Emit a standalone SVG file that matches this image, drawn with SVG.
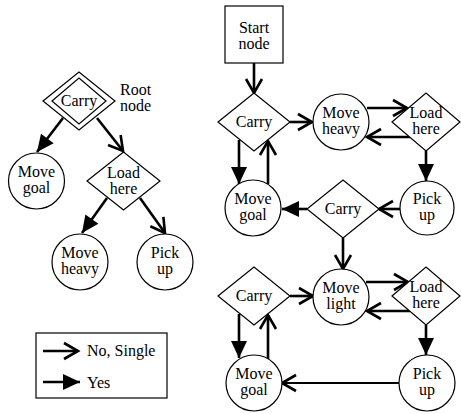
<svg xmlns="http://www.w3.org/2000/svg" width="461" height="414" viewBox="0 0 461 414">
<style>
.n{fill:#fff;stroke:#000;stroke-width:1.2}
.c{fill:none;stroke:#000;stroke-width:2.6}
</style>
<defs>
<marker id="open" markerUnits="userSpaceOnUse" markerWidth="22" markerHeight="22" viewBox="0 0 22 22" refX="18" refY="11" orient="auto" overflow="visible"><path d="M4,3 L18,11 L4,19" fill="none" stroke="#000" stroke-width="2.6"/></marker>
<marker id="fill" markerUnits="userSpaceOnUse" markerWidth="22" markerHeight="22" viewBox="0 0 22 22" refX="18" refY="11" orient="auto" overflow="visible"><path d="M1,3 L18,11 L1,19 Z" fill="#000" stroke="none"/></marker>
</defs>

<g id="connectors" class="c">
<path marker-end="url(#fill)" d="M63,118 L37,152"/>
<path marker-end="url(#open)" d="M97,118 L123,151"/>
<path marker-end="url(#fill)" d="M107,198 L82,233"/>
<path marker-end="url(#open)" d="M140,198 L165,233"/>
<path marker-end="url(#open)" d="M254,63 L254,93"/>
<path marker-end="url(#open)" d="M290,122 L312,122"/>
<path marker-end="url(#open)" d="M367,108 L407,108"/>
<path marker-end="url(#open)" d="M410,137 L367,137"/>
<path marker-end="url(#fill)" d="M426,151 L426,181"/>
<path marker-end="url(#open)" d="M400,209 L379,209"/>
<path marker-end="url(#fill)" d="M307,209 L282,209"/>
<path marker-end="url(#fill)" d="M239,140 L239,184"/>
<path marker-end="url(#open)" d="M268,184 L268,141"/>
<path marker-end="url(#open)" d="M343,238 L343,269"/>
<path marker-end="url(#open)" d="M290,296 L313,296"/>
<path marker-end="url(#open)" d="M366,282 L408,282"/>
<path marker-end="url(#open)" d="M410,311 L367,311"/>
<path marker-end="url(#fill)" d="M426,325 L426,355"/>
<path marker-end="url(#open)" d="M399,383 L282,383" stroke-width="2.2"/>
<path marker-end="url(#fill)" d="M239,314 L239,358"/>
<path marker-end="url(#open)" d="M268,359 L268,315"/>
</g>

<g id="root-carry" class="n">
<polygon points="43,101 79,72 115,101 79,130"/>
<polygon points="52,101 79,78 106,101 79,124"/>
</g>
<g id="t-move-goal" class="n"><circle cx="36.5" cy="181" r="28"/></g>
<g id="t-load-here" class="n"><polygon points="87,181 123.5,152 160,181 123.5,210"/></g>
<g id="t-move-heavy" class="n"><circle cx="80" cy="262" r="28"/></g>
<g id="t-pick-up" class="n"><circle cx="165" cy="262" r="28"/></g>
<g id="legend">
<rect class="n" x="36" y="333" width="131" height="65"/>
<path class="c" d="M43,351 L78,351" marker-end="url(#open)"/>
<path class="c" d="M43,382 L80,382" marker-end="url(#fill)"/>
</g>
<g id="start-node" class="n"><rect x="225" y="6" width="58" height="57"/></g>
<g id="carry-1" class="n"><polygon points="218,122 254,93 290,122 254,151"/></g>
<g id="move-heavy" class="n"><circle cx="341" cy="122" r="28"/></g>
<g id="load-here-1" class="n"><polygon points="392,122 426,93 460,122 426,151"/></g>
<g id="pick-up-1" class="n"><circle cx="427" cy="208" r="27"/></g>
<g id="carry-2" class="n"><polygon points="307,209 343,180 379,209 343,238"/></g>
<g id="move-goal-1" class="n"><circle cx="253" cy="208" r="28"/></g>
<g id="move-light" class="n"><circle cx="341" cy="297" r="28"/></g>
<g id="carry-3" class="n"><polygon points="218,296 254,267 290,296 254,325"/></g>
<g id="load-here-2" class="n"><polygon points="392,296 426,267 460,296 426,325"/></g>
<g id="pick-up-2" class="n"><circle cx="427" cy="383" r="28"/></g>
<g id="move-goal-2" class="n"><circle cx="254" cy="383" r="28"/></g>

<text x="79" y="106" font-family="Liberation Serif" font-size="16" text-anchor="middle">Carry</text>
<text x="120" y="95" font-family="Liberation Serif" font-size="16">Root</text>
<text x="120" y="111" font-family="Liberation Serif" font-size="16">node</text>
<text x="36.5" y="177" font-family="Liberation Serif" font-size="16" text-anchor="middle">Move</text>
<text x="36.5" y="193" font-family="Liberation Serif" font-size="16" text-anchor="middle">goal</text>
<text x="123.5" y="178" font-family="Liberation Serif" font-size="16" text-anchor="middle">Load</text>
<text x="123.5" y="194" font-family="Liberation Serif" font-size="16" text-anchor="middle">here</text>
<text x="80" y="258" font-family="Liberation Serif" font-size="16" text-anchor="middle">Move</text>
<text x="80" y="274" font-family="Liberation Serif" font-size="16" text-anchor="middle">heavy</text>
<text x="165" y="258" font-family="Liberation Serif" font-size="16" text-anchor="middle">Pick</text>
<text x="165" y="274" font-family="Liberation Serif" font-size="16" text-anchor="middle">up</text>
<text x="87" y="356" font-family="Liberation Serif" font-size="16">No, Single</text>
<text x="87" y="388" font-family="Liberation Serif" font-size="16">Yes</text>
<text x="254" y="33" font-family="Liberation Serif" font-size="16" text-anchor="middle">Start</text>
<text x="254" y="49" font-family="Liberation Serif" font-size="16" text-anchor="middle">node</text>
<text x="254" y="127" font-family="Liberation Serif" font-size="16" text-anchor="middle">Carry</text>
<text x="341" y="118" font-family="Liberation Serif" font-size="16" text-anchor="middle">Move</text>
<text x="341" y="134" font-family="Liberation Serif" font-size="16" text-anchor="middle">heavy</text>
<text x="426" y="118" font-family="Liberation Serif" font-size="16" text-anchor="middle">Load</text>
<text x="426" y="134" font-family="Liberation Serif" font-size="16" text-anchor="middle">here</text>
<text x="427" y="204" font-family="Liberation Serif" font-size="16" text-anchor="middle">Pick</text>
<text x="427" y="220" font-family="Liberation Serif" font-size="16" text-anchor="middle">up</text>
<text x="343" y="214" font-family="Liberation Serif" font-size="16" text-anchor="middle">Carry</text>
<text x="253" y="204" font-family="Liberation Serif" font-size="16" text-anchor="middle">Move</text>
<text x="253" y="220" font-family="Liberation Serif" font-size="16" text-anchor="middle">goal</text>
<text x="341" y="293" font-family="Liberation Serif" font-size="16" text-anchor="middle">Move</text>
<text x="341" y="309" font-family="Liberation Serif" font-size="16" text-anchor="middle">light</text>
<text x="254" y="301" font-family="Liberation Serif" font-size="16" text-anchor="middle">Carry</text>
<text x="426" y="292" font-family="Liberation Serif" font-size="16" text-anchor="middle">Load</text>
<text x="426" y="308" font-family="Liberation Serif" font-size="16" text-anchor="middle">here</text>
<text x="427" y="379" font-family="Liberation Serif" font-size="16" text-anchor="middle">Pick</text>
<text x="427" y="395" font-family="Liberation Serif" font-size="16" text-anchor="middle">up</text>
<text x="254" y="379" font-family="Liberation Serif" font-size="16" text-anchor="middle">Move</text>
<text x="254" y="395" font-family="Liberation Serif" font-size="16" text-anchor="middle">goal</text>
</svg>
